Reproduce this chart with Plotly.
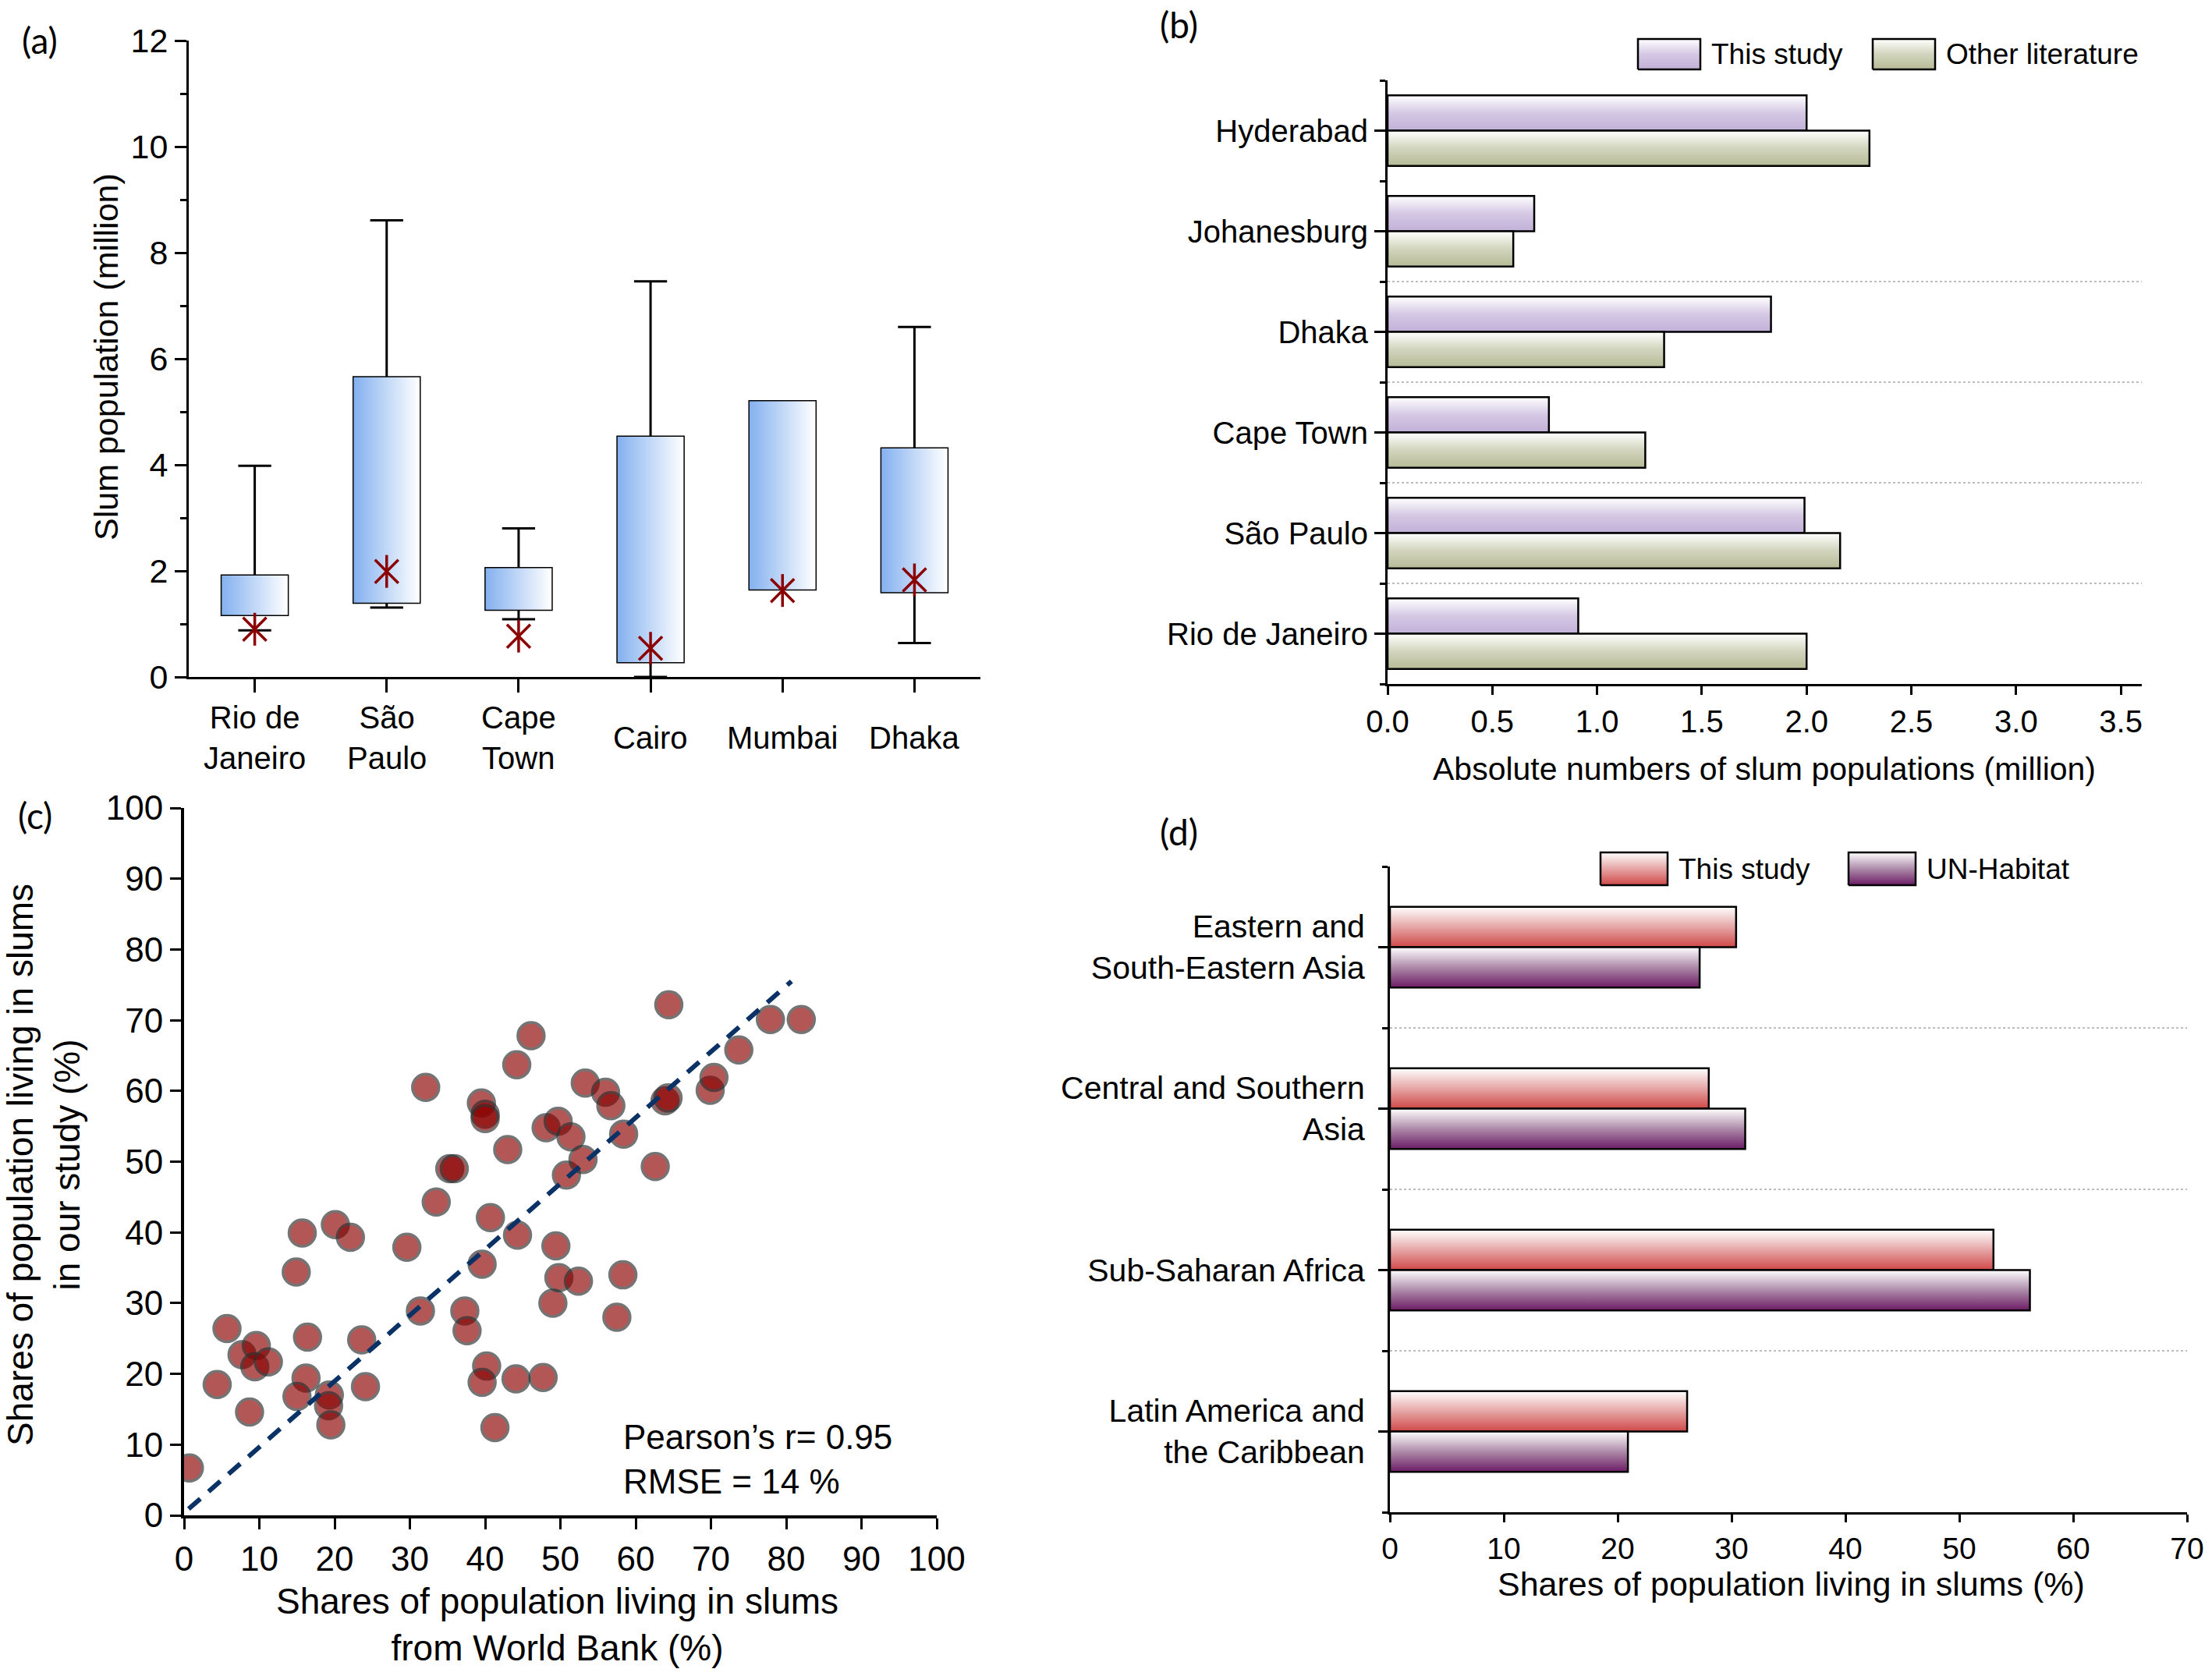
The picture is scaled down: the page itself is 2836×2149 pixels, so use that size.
import plotly.graph_objects as go

W, H = 2836, 2149
FONT = "Liberation Sans, Arial, sans-serif"

# (a) box plot stats, million people
cities_a = ["Rio de<br>Janeiro", "São<br>Paulo", "Cape<br>Town", "Cairo", "Mumbai", "Dhaka"]
q1_a = [1.17, 1.40, 1.27, 0.28, 1.65, 1.60]
median_a = [1.55, 2.58, 1.55, 2.22, 1.67, 3.08]
q3_a = [1.91, 5.65, 2.05, 4.53, 5.20, 4.31]
low_a = [0.88, 1.31, 1.09, 0.0, 1.65, 0.64]
high_a = [3.98, 8.61, 2.80, 7.46, 5.20, 6.60]
mean_a = [0.90, 1.99, 0.77, 0.54, 1.63, 1.83]

# (b) absolute numbers (million), bottom to top
cities_b = ["Rio de Janeiro", "São Paulo", "Cape Town", "Dhaka", "Johanesburg", "Hyderabad"]
this_b = [0.91, 1.99, 0.77, 1.83, 0.70, 2.00]
other_b = [2.00, 2.16, 1.23, 1.32, 0.60, 2.30]

# (c) shares: World Bank vs this study (%)
wb_share = [0.7, 4.4, 5.7, 7.7, 9.6, 9.4, 11.2, 8.7, 14.9, 15.7, 16.4, 16.2, 15.0, 19.3,
            19.2, 19.5, 20.1, 22.1, 23.6, 24.1, 29.6, 31.4, 32.1, 33.5, 35.3, 35.9, 37.3,
            37.6, 39.5, 40.0, 40.0, 39.6, 40.2, 39.6, 40.7, 41.3, 43.0, 44.2, 44.3, 44.1,
            46.1, 47.7, 48.1, 49.4, 49.8, 49.0, 49.7, 50.8, 51.4, 52.4, 53.0, 53.3, 56.0,
            56.7, 58.4, 62.6, 63.9, 64.3, 64.4, 69.9, 70.4, 73.7, 77.9, 82.0, 58.3, 57.5]
our_share = [6.7, 18.5, 26.4, 22.7, 24.0, 21.0, 21.7, 14.6, 34.4, 39.9, 25.2, 19.4, 16.8, 17.0,
             15.5, 12.8, 41.1, 39.3, 24.8, 18.2, 37.9, 28.9, 60.5, 44.3, 49.0, 49.0, 28.9,
             26.1, 58.3, 56.7, 56.1, 35.5, 21.1, 18.8, 42.1, 12.4, 51.7, 63.7, 39.6, 19.3,
             67.8, 19.5, 54.8, 38.1, 33.6, 30.0, 55.7, 48.1, 53.5, 33.1, 50.3, 61.1, 59.8,
             57.9, 53.9, 49.3, 58.6, 59.0, 72.2, 60.1, 61.9, 65.8, 70.1, 70.1, 34.0, 28.0]
fit_x = [0.6, 80.7]
fit_y = [0.9, 75.5]

# (d) regional shares (%), bottom to top
regions = ["Latin America and<br>the Caribbean", "Sub-Saharan Africa",
           "Central and Southern<br>Asia", "Eastern and<br>South-Eastern Asia"]
this_d = [26.1, 53.0, 28.0, 30.4]
un_d = [20.9, 56.2, 31.2, 27.2]

BLUE = [[0, "#84b1ef"], [1, "#ffffff"]]
LAV = [[0, "#c2b0d8"], [0.5, "#d4c8e4"], [1, "#ffffff"]]
OLIVE = [[0, "#b6bb96"], [0.5, "#d2d5bd"], [1, "#ffffff"]]
RED = [[0, "#d04848"], [0.5, "#e6a5a5"], [1, "#ffffff"]]
PLUM = [[0, "#6c1c65"], [0.5, "#ad8aa9"], [1, "#ffffff"]]


def grad_rect(x0, x1, y0, y1, scale, kind, xa, ya, lw=2.5):
    return go.Scatter(
        x=[x0, x1, x1, x0, x0], y=[y0, y0, y1, y1, y0],
        mode="lines", fill="toself",
        fillgradient=dict(type=kind, colorscale=scale),
        line=dict(color="black", width=lw),
        xaxis=xa, yaxis=ya, showlegend=False, hoverinfo="skip")


fig = go.Figure()

# (a)
for i in range(len(cities_a)):
    fig.add_trace(grad_rect(i - 0.25, i + 0.25, q1_a[i], q3_a[i], BLUE, "horizontal", "x", "y", lw=0))
fig.add_trace(go.Box(
    x=list(range(len(cities_a))), q1=q1_a, median=median_a, q3=q3_a,
    lowerfence=low_a, upperfence=high_a, width=0.5, whiskerwidth=0.5,
    fillcolor="rgba(0,0,0,0)", line=dict(color="black", width=3),
    xaxis="x", yaxis="y", showlegend=False, hoverinfo="skip"))
for sym in ["x-thin-open", "line-ns-open"]:
    fig.add_trace(go.Scatter(
        x=list(range(len(cities_a))), y=mean_a, mode="markers",
        marker=dict(symbol=sym, size=30, color="#8b0000",
                    line=dict(color="#8b0000", width=3.5)),
        xaxis="x", yaxis="y", showlegend=False, hoverinfo="skip"))

# (b)
for i in range(len(cities_b)):
    fig.add_trace(grad_rect(0, this_b[i], i, i + 0.35, LAV, "vertical", "x2", "y2"))
    fig.add_trace(grad_rect(0, other_b[i], i - 0.35, i, OLIVE, "vertical", "x2", "y2"))

# (c)
fig.add_trace(go.Scatter(
    x=wb_share, y=our_share, mode="markers",
    marker=dict(size=34, color="#8b0000", opacity=0.66,
                line=dict(color="rgb(45,45,45)", width=3.5)),
    xaxis="x3", yaxis="y3", showlegend=False))
fig.add_trace(go.Scatter(
    x=fit_x, y=fit_y, mode="lines",
    line=dict(color="#0b3266", width=6, dash="20px,14px"),
    xaxis="x3", yaxis="y3", showlegend=False))

# (d)
for i in range(len(regions)):
    fig.add_trace(grad_rect(0, this_d[i], i, i + 0.25, RED, "vertical", "x4", "y4"))
    fig.add_trace(grad_rect(0, un_d[i], i - 0.25, i, PLUM, "vertical", "x4", "y4"))

# legend swatches on a full-figure pixel axis
legend_items = [
    (2100, 2180, 50, 89, LAV, "This study"),
    (2401, 2481, 50, 89, OLIVE, "Other literature"),
    (2052, 2138, 1093, 1135, RED, "This study"),
    (2370, 2456, 1093, 1135, PLUM, "UN-Habitat"),
]
annotations = []
for x0, x1, y0, y1, sc, name in legend_items:
    fig.add_trace(grad_rect(x0, x1, H - y1, H - y0, sc, "vertical", "x5", "y5"))
    annotations.append(dict(x=(x1 + 12) / W, y=1 - (y0 + y1) / 2 / H, xref="paper", yref="paper",
                            text=name, showarrow=False, xanchor="left", yanchor="middle",
                            font=dict(size=37, family=FONT, color="black")))


def px(x, y):
    return x / W, 1 - y / H


axis_base = dict(showline=True, linecolor="black", linewidth=3, ticks="outside",
                 tickcolor="black", tickwidth=3, showgrid=False, zeroline=False,
                 automargin=False, ticklabeloverflow="allow",
                 tickfont=dict(family=FONT, color="black"))

fig.update_layout(
    width=W, height=H, margin=dict(l=0, r=0, t=0, b=0, autoexpand=False),
    paper_bgcolor="white", plot_bgcolor="rgba(0,0,0,0)", showlegend=False,
    xaxis=dict(axis_base, domain=[242 / W, 1257 / W], range=[-0.5, 5.5], anchor="y",
               tickvals=list(range(len(cities_a))), showticklabels=False, ticklen=17),
    yaxis=dict(axis_base, domain=[1 - 868 / H, 1 - 52 / H], range=[0, 12], anchor="x",
               tickvals=[0, 2, 4, 6, 8, 10, 12], ticklen=15, tickfont_size=43,
               minor=dict(tick0=1, dtick=2, ticks="outside", ticklen=8, tickwidth=3,
                          tickcolor="black")),
    xaxis2=dict(axis_base, domain=[1779 / W, 2746 / W], range=[0, 3.6], anchor="y2",
                dtick=0.5, tickformat=".1f", ticklen=11, tickfont_size=40),
    yaxis2=dict(axis_base, domain=[1 - 877 / H, 1 - 103 / H], range=[-0.5, 5.5], anchor="x2",
                tickvals=list(range(len(cities_b))), ticktext=cities_b, ticklen=14,
                tickfont_size=40,
                minor=dict(tick0=0.5, dtick=1, ticks="outside", ticklen=7, tickwidth=3,
                           tickcolor="black")),
    xaxis3=dict(axis_base, domain=[236 / W, 1201 / W], range=[0, 100], anchor="y3",
                dtick=10, ticklen=14, tickfont_size=44, linewidth=4),
    yaxis3=dict(axis_base, domain=[1 - 1943 / H, 1 - 1036 / H], range=[0, 100], anchor="x3",
                dtick=10, ticklen=14, tickfont_size=44, linewidth=4),
    xaxis4=dict(axis_base, domain=[1782 / W, 2804 / W], range=[0, 70], anchor="y4",
                dtick=10, ticklen=10, tickfont_size=39),
    yaxis4=dict(axis_base, domain=[1 - 1939 / H, 1 - 1111 / H], range=[-0.5, 3.5], anchor="x4",
                tickvals=list(range(len(regions))), ticktext=regions, ticklen=12,
                tickfont_size=41, ticklabelstandoff=9,
                minor=dict(tick0=0.5, dtick=1, ticks="outside", ticklen=7, tickwidth=3,
                           tickcolor="black")),
    xaxis5=dict(domain=[0, 1], range=[0, W], visible=False, anchor="y5", fixedrange=True,
                automargin=False),
    yaxis5=dict(domain=[0, 1], range=[0, H], visible=False, anchor="x5", fixedrange=True,
                automargin=False),
)

# dotted separators between categories
shapes = []
for b in [i + 0.5 for i in range(len(cities_b) - 2)]:
    shapes.append(dict(type="line", xref="x2", yref="y2", x0=0, x1=3.6, y0=b, y1=b,
                       line=dict(color="#bdbdbd", width=2, dash="dot"), layer="below"))
for b in [i + 0.5 for i in range(len(regions) - 1)]:
    shapes.append(dict(type="line", xref="x4", yref="y4", x0=0, x1=70, y0=b, y1=b,
                       line=dict(color="#bdbdbd", width=2, dash="dot"), layer="below"))
fig.update_layout(shapes=shapes)

# category labels of (a), centred on two lines
for i, lab in enumerate(cities_a):
    annotations.append(dict(x=i, y=1 - 946 / H, xref="x", yref="paper", text=lab,
                            showarrow=False, yanchor="middle",
                            font=dict(size=40, family=FONT, color="black")))


def note(x, y, text, size, angle=0, family=FONT, xanchor="center", align="center"):
    xp, yp = px(x, y)
    annotations.append(dict(x=xp, y=yp, xref="paper", yref="paper", text=text,
                            showarrow=False, textangle=angle, xanchor=xanchor,
                            yanchor="middle", align=align,
                            font=dict(size=size, family=family, color="black")))


note(136, 458, "Slum population (million)", 43, angle=-90)
note(2262, 986, "Absolute numbers of slum populations (million)", 41)
note(56, 1494, "Shares of population living in slums<br>in our study (%)", 46, angle=-90)
note(714, 2083, "Shares of population living in slums<br>from World Bank (%)", 46)
note(2296, 2031, "Shares of population living in slums (%)", 43)
note(797, 1871, "Pearson’s r= 0.95<br>RMSE = 14 %", 44, xanchor="left", align="left")

for lab, x, y in [("(a)", 51, 52), ("(b)", 1511, 31), ("(c)", 45, 1046), ("(d)", 1511, 1067)]:
    note(x, y, lab, 46, family="Lato, Open Sans, sans-serif")

fig.update_layout(annotations=annotations)

fig.write_html("out.html", config={"displayModeBar": False},
               post_script="document.body.style.margin='0';")
